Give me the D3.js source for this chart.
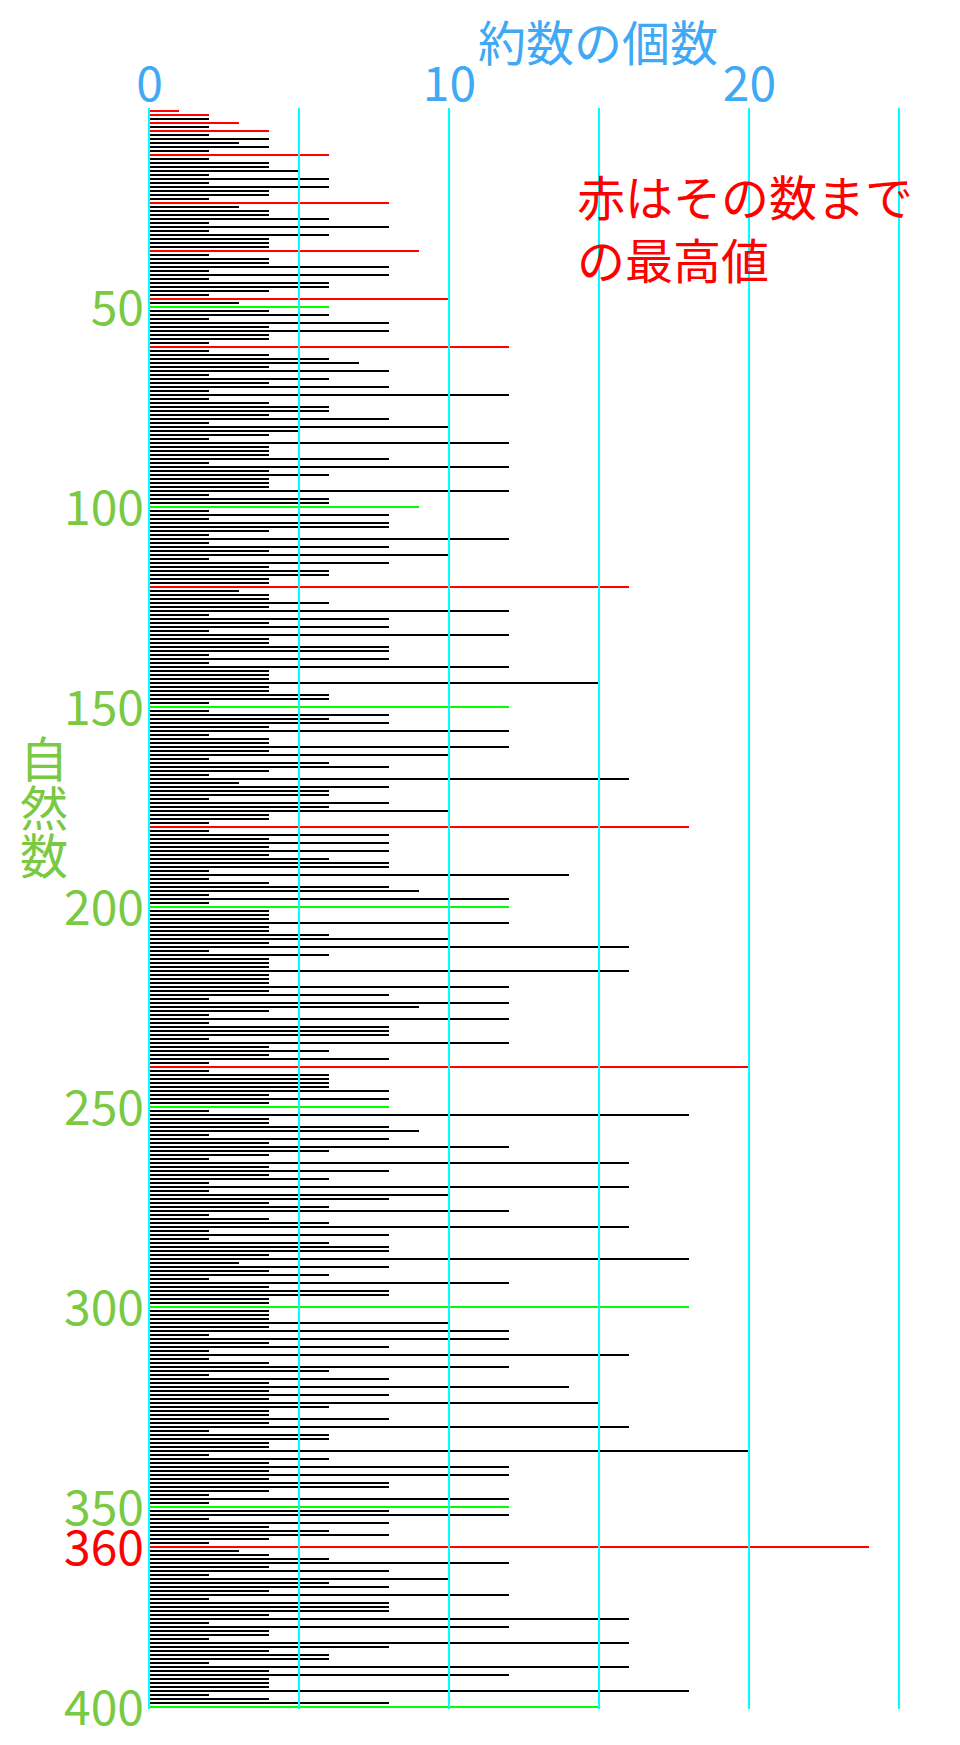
<!DOCTYPE html>
<html>
<head>
<meta charset="utf-8">
<script src="https://cdn.jsdelivr.net/npm/d3@7"></script>
<style>
  body { margin: 0; background: #fff; }
  svg { display: block; font-family: "Noto Sans CJK JP", "Noto Sans", sans-serif; }
</style>
</head>
<body>
<div id="chart"></div>
<script>
// number of divisors for n = 1..400 (read row by row, 10 per row)
const divisorCounts = [
  1, 2, 2, 3, 2, 4, 2, 4, 3, 4,
  2, 6, 2, 4, 4, 5, 2, 6, 2, 6,
  4, 4, 2, 8, 3, 4, 4, 6, 2, 8,
  2, 6, 4, 4, 4, 9, 2, 4, 4, 8,
  2, 8, 2, 6, 6, 4, 2, 10, 3, 6,
  4, 6, 2, 8, 4, 8, 4, 4, 2, 12,
  2, 4, 6, 7, 4, 8, 2, 6, 4, 8,
  2, 12, 2, 4, 6, 6, 4, 8, 2, 10,
  5, 4, 2, 12, 4, 4, 4, 8, 2, 12,
  4, 6, 4, 4, 4, 12, 2, 6, 6, 9,
  2, 8, 2, 8, 8, 4, 2, 12, 2, 8,
  4, 10, 2, 8, 4, 6, 6, 4, 4, 16,
  3, 4, 4, 6, 4, 12, 2, 8, 4, 8,
  2, 12, 4, 4, 8, 8, 2, 8, 2, 12,
  4, 4, 4, 15, 4, 4, 6, 6, 2, 12,
  2, 8, 6, 8, 4, 12, 2, 4, 4, 12,
  4, 10, 2, 6, 8, 4, 2, 16, 3, 8,
  6, 6, 2, 8, 6, 10, 4, 4, 2, 18,
  2, 8, 4, 8, 4, 8, 4, 6, 8, 8,
  2, 14, 2, 4, 8, 9, 2, 12, 2, 12,
  4, 4, 4, 12, 4, 4, 6, 10, 4, 16,
  2, 6, 4, 4, 4, 16, 4, 4, 4, 12,
  4, 8, 2, 12, 9, 4, 2, 12, 2, 8,
  8, 8, 2, 12, 4, 6, 4, 8, 2, 20,
  2, 6, 6, 6, 6, 8, 4, 8, 4, 8,
  2, 18, 4, 4, 8, 9, 2, 8, 4, 12,
  6, 4, 2, 16, 4, 8, 4, 6, 2, 16,
  2, 10, 8, 4, 6, 12, 2, 4, 6, 16,
  2, 8, 2, 6, 8, 8, 4, 18, 3, 8,
  4, 6, 2, 12, 4, 8, 8, 4, 4, 18,
  4, 4, 4, 10, 4, 12, 2, 12, 4, 8,
  2, 16, 2, 4, 12, 6, 2, 8, 4, 14,
  4, 8, 4, 15, 6, 4, 4, 8, 4, 16,
  2, 6, 6, 4, 4, 20, 2, 6, 4, 12,
  4, 12, 4, 8, 8, 4, 2, 12, 2, 12,
  8, 12, 2, 8, 4, 6, 8, 4, 2, 24,
  3, 4, 6, 12, 4, 8, 2, 10, 6, 8,
  4, 12, 2, 8, 8, 8, 4, 16, 2, 12,
  4, 4, 2, 16, 8, 4, 6, 6, 2, 16,
  4, 12, 4, 4, 4, 18, 2, 4, 8, 15
];

// record holders (drawn red) and every 50th number (drawn green)
const recordNumbers = [1, 2, 4, 6, 12, 24, 36, 48, 60, 120, 180, 240, 360];
const milestoneNumbers = [50, 100, 150, 200, 250, 300, 350, 400];

const xTickValues = [0, 10, 20];
const xGridValues = [0, 5, 10, 15, 20, 25];
const yTickValues = [50, 100, 150, 200, 250, 300, 350, 360, 400];
const yRedTicks = [360];

const xTitle = "約数の個数";
const yTitle = ["自", "然", "数"];
const noteLines = ["赤はその数まで", "の最高値"];

const W = 960, H = 1745;
const BLUE = "#3fa9f5", GREEN_TEXT = "#7ac943";

const svg = d3.select("#chart").append("svg")
  .attr("width", W)
  .attr("height", H);

var x = d3.scaleLinear().domain([0, 25]).range([149, 899]);
var y = d3.scaleLinear().domain([0, 400]).range([107, 1707]);

const data = divisorCounts.map((d, i) => ({ n: i + 1, count: d }));

function lineColor(n) {
  if (recordNumbers.includes(n)) return "#ff0000";
  if (milestoneNumbers.includes(n)) return "#00ff00";
  return "#000000";
}

// one horizontal line per natural number
svg.append("g")
  .attr("shape-rendering", "crispEdges")
  .selectAll("line")
  .data(data)
  .enter()
  .append("line")
  .attr("x1", x(0))
  .attr("x2", (d) => x(d.count))
  .attr("y1", (d) => y(d.n))
  .attr("y2", (d) => y(d.n))
  .attr("stroke", (d) => lineColor(d.n))
  .attr("stroke-width", 2);

// cyan grid on top
svg.append("g")
  .attr("shape-rendering", "crispEdges")
  .selectAll("line")
  .data(xGridValues)
  .enter()
  .append("line")
  .attr("x1", (d) => x(d))
  .attr("x2", (d) => x(d))
  .attr("y1", 108)
  .attr("y2", 1709)
  .attr("stroke", "#00ffff")
  .attr("stroke-width", 2);

// top axis labels
const xAxisGroup = svg.append("g")
  .attr("transform", "translate(0,101)")
  .call(d3.axisTop(x).tickValues(xTickValues).tickSize(0).tickPadding(0));
xAxisGroup.select(".domain").remove();
xAxisGroup.selectAll("text")
  .attr("fill", BLUE)
  .style("font-size", "48px")
  .style("font-family", '"Noto Sans CJK JP", sans-serif');

// left axis labels
const yAxisGroup = svg.append("g")
  .attr("transform", "translate(" + x(0) + ",0)")
  .call(d3.axisLeft(y).tickValues(yTickValues).tickSize(0).tickPadding(5));
yAxisGroup.select(".domain").remove();
yAxisGroup.selectAll("text")
  .attr("dy", "0.36em")
  .attr("fill", (d) => (yRedTicks.includes(d) ? "#ff0000" : GREEN_TEXT))
  .style("font-size", "48px")
  .style("font-family", '"Noto Sans CJK JP", sans-serif');

// titles
svg.append("text")
  .attr("x", 598)
  .attr("y", 61)
  .attr("text-anchor", "middle")
  .attr("fill", BLUE)
  .style("font-size", "48px")
  .text(xTitle);

svg.append("g")
  .selectAll("text")
  .data(yTitle)
  .enter()
  .append("text")
  .attr("x", 44)
  .attr("y", (d, i) => 777 + i * 48.5)
  .attr("text-anchor", "middle")
  .attr("fill", GREEN_TEXT)
  .style("font-size", "48px")
  .text((d) => d);

// red note
svg.append("g")
  .selectAll("text")
  .data(noteLines)
  .enter()
  .append("text")
  .attr("x", 577)
  .attr("y", (d, i) => 216 + i * 63)
  .attr("fill", "#ff0000")
  .style("font-size", "48px")
  .text((d) => d);
</script>
</body>
</html>
